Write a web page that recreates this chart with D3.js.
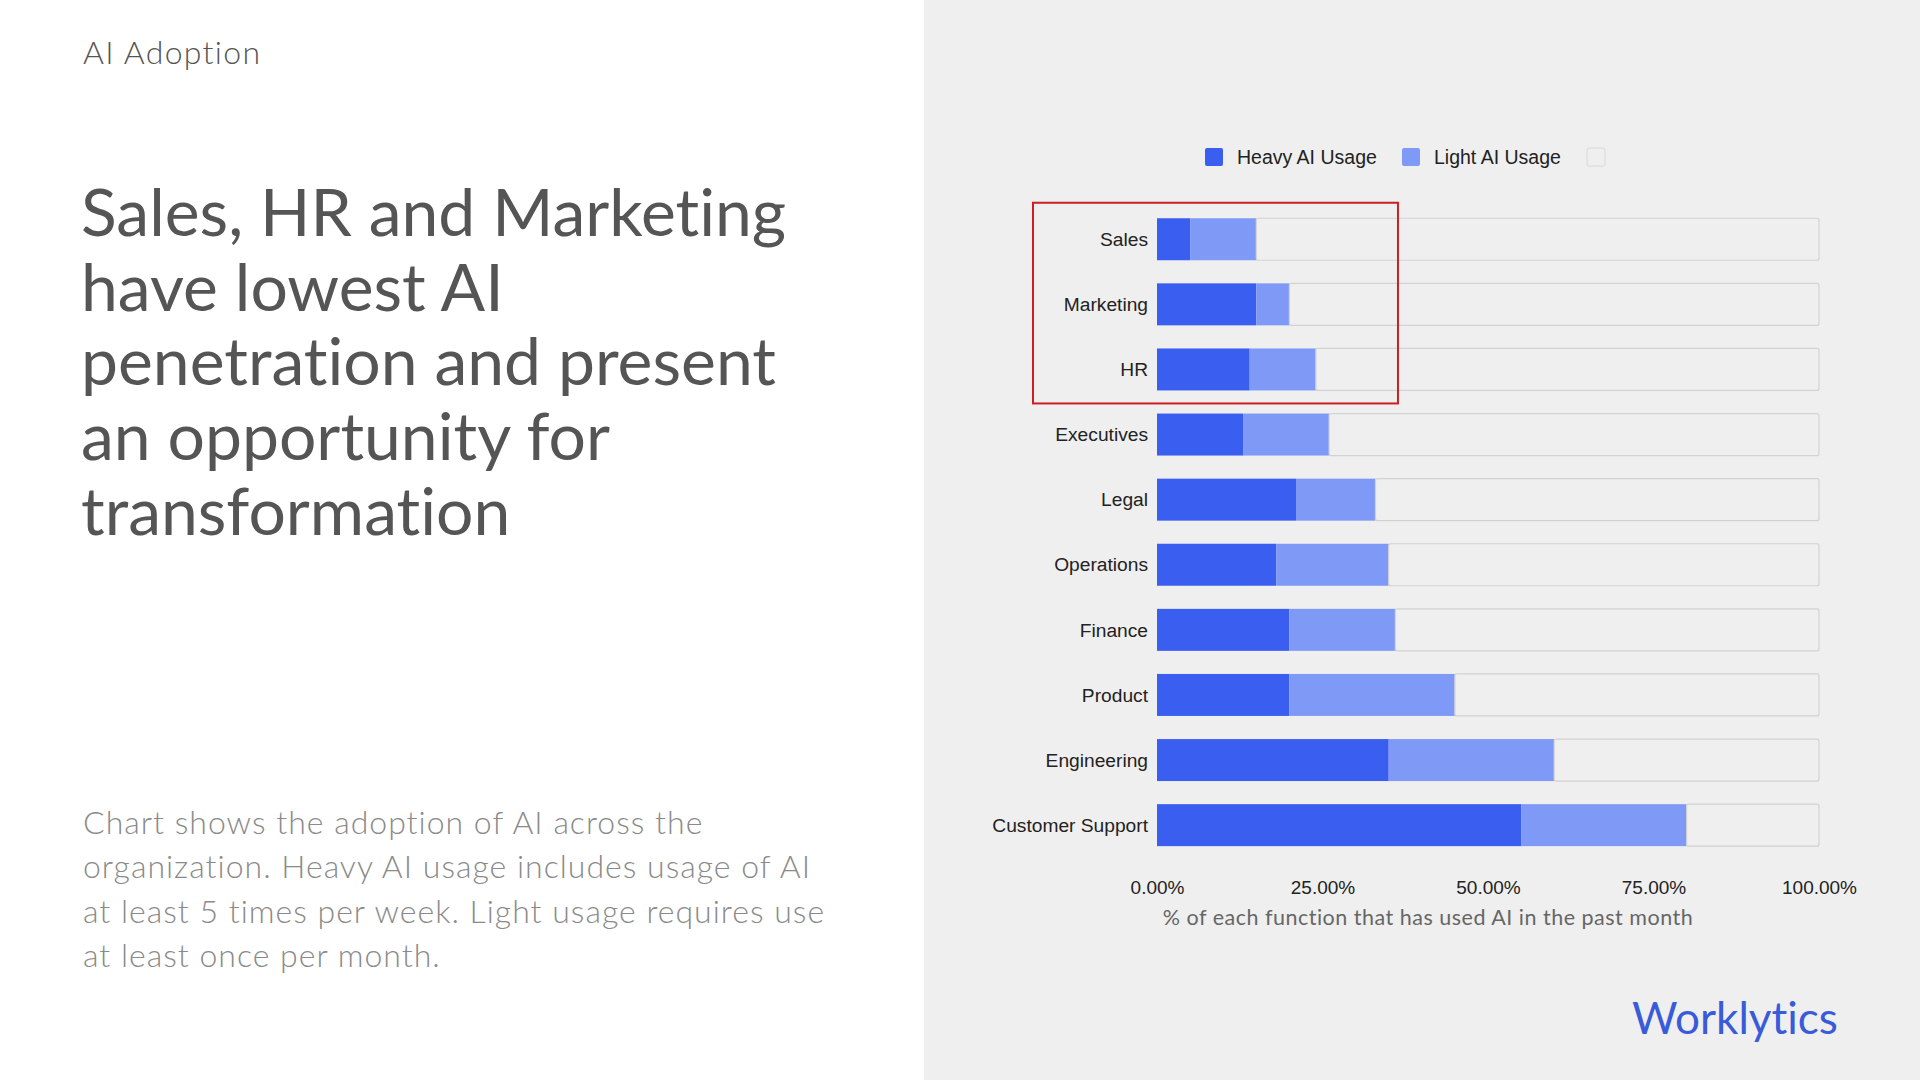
<!DOCTYPE html>
<html>
<head>
<meta charset="utf-8">
<script src="https://cdn.jsdelivr.net/npm/d3@7"></script>
<style>
  html, body { margin: 0; padding: 0; background: #ffffff; }
  svg { display: block; }
  text { font-variant-ligatures: none; }
</style>
</head>
<body>
<svg id="slide" width="1920" height="1080"></svg>
<script>
// functions, top to bottom
var categories = ["Sales", "Marketing", "HR", "Executives", "Legal", "Operations", "Finance", "Product", "Engineering", "Customer Support"];
// % of each function
var heavyUsage = [5, 15, 14, 13, 21, 18, 20, 20, 35, 55];
var lightUsage = [10, 5, 10, 13, 12, 17, 16, 25, 25, 25];
var seriesNames = ["Heavy AI Usage", "Light AI Usage", ""];
var xTicks = [0, 25, 50, 75, 100];

var kicker = "AI Adoption";
var headline = ["Sales, HR and Marketing", "have lowest AI", "penetration and present", "an opportunity for", "transformation"];
var blurb = ["Chart shows the adoption of AI across the", "organization. Heavy AI usage includes usage of AI", "at least 5 times per week. Light usage requires use", "at least once per month."];
var xTitle = "% of each function that has used AI in the past month";
var highlighted = ["Sales", "Marketing", "HR"];

var colors = ["#3a5eef", "#7f99f7", "#efefef"];
var sans = "Lato, 'Open Sans', sans-serif";
var arial = "'Liberation Sans', Arial, Helvetica, sans-serif";

var svg = d3.select("#slide");

// panels
svg.append("rect").attr("x", 0).attr("y", 0).attr("width", 924).attr("height", 1080).attr("fill", "#ffffff");
svg.append("rect").attr("x", 924).attr("y", 0).attr("width", 996).attr("height", 1080).attr("fill", "#efefef");

// left side text
svg.append("text")
  .attr("x", 83).attr("y", 64)
  .attr("font-family", sans).attr("font-size", 32).attr("font-weight", 300)
  .attr("letter-spacing", 1.3)
  .attr("fill", "#555")
  .text(kicker);

svg.append("g").selectAll("text")
  .data(headline)
  .enter().append("text")
  .attr("x", 81)
  .attr("y", function (d, i) { return 236 + i * 74.7; })
  .attr("font-family", sans).attr("font-size", 66).attr("font-weight", 400)
  .attr("fill", "#555")
  .text(function (d) { return d; });

svg.append("g").selectAll("text")
  .data(blurb)
  .enter().append("text")
  .attr("x", 83)
  .attr("y", function (d, i) { return 834 + i * 44.3; })
  .attr("font-family", sans).attr("font-size", 32).attr("font-weight", 300)
  .attr("letter-spacing", 1)
  .attr("fill", "#8a8a8a")
  .text(function (d) { return d; });

// chart
var x = d3.scaleLinear().domain([0, 100]).range([1157, 1819]);
var y = d3.scaleBand().domain(categories).range([206.7, 857.7]).paddingInner(0.355).paddingOuter(0.1775);

var rows = categories.map(function (c, i) {
  return { cat: c, heavy: heavyUsage[i], light: lightUsage[i], rest: 100 - heavyUsage[i] - lightUsage[i] };
});
var stack = d3.stack().keys(["heavy", "light", "rest"])(rows);

var bars = svg.append("g");
bars.selectAll("g")
  .data(stack)
  .enter().append("g")
  .each(function (layer, k) {
    d3.select(this).selectAll("rect")
      .data(layer)
      .enter().append("rect")
      .attr("x", function (d) { return x(d[0]); })
      .attr("y", function (d) { return y(d.data.cat); })
      .attr("width", function (d) { return x(d[1]) - x(d[0]); })
      .attr("height", y.bandwidth())
      .attr("fill", colors[k])
      .attr("stroke", k == 2 ? "#d2d2d2" : "none")
      .attr("stroke-width", 1.2)
      .attr("rx", k == 2 ? 2 : 0);
  });

// category labels
svg.append("g").selectAll("text")
  .data(categories)
  .enter().append("text")
  .attr("x", x(0) - 9)
  .attr("y", function (d) { return y(d) + y.bandwidth() / 2; })
  .attr("dy", "0.35em")
  .attr("text-anchor", "end")
  .attr("font-family", arial).attr("font-size", 19.2)
  .attr("fill", "#222")
  .text(function (d) { return d; });

// x axis
var xAxis = svg.append("g")
  .attr("transform", "translate(0," + y.range()[1] + ")")
  .call(d3.axisBottom(x).tickValues(xTicks).tickSize(0).tickPadding(23)
    .tickFormat(function (d) { return d3.format(".2f")(d) + "%"; }));
xAxis.select(".domain").remove();
xAxis.selectAll("text")
  .attr("font-family", arial).attr("font-size", 19)
  .attr("fill", "#222");

svg.append("text")
  .attr("x", 1428).attr("y", 925)
  .attr("text-anchor", "middle")
  .attr("font-family", sans).attr("font-size", 21.5).attr("font-weight", 400)
  .attr("letter-spacing", 0.5)
  .attr("fill", "#666")
  .text(xTitle);

// legend
var legendX = [1205, 1402, 1587];
var legend = svg.append("g").selectAll("g")
  .data(seriesNames)
  .enter().append("g")
  .attr("transform", function (d, i) { return "translate(" + legendX[i] + ",148)"; });
legend.append("rect")
  .attr("width", 18).attr("height", 18).attr("rx", 2)
  .attr("fill", function (d, i) { return colors[i]; })
  .attr("stroke", function (d, i) { return i == 2 ? "#d8d8d8" : "none"; });
legend.append("text")
  .attr("x", 32).attr("y", 9).attr("dy", "0.35em")
  .attr("font-family", arial).attr("font-size", 19.5)
  .attr("fill", "#222")
  .text(function (d) { return d; });

// red highlight box round the three lowest rows
var first = highlighted[0], last = highlighted[highlighted.length - 1];
svg.append("rect")
  .attr("x", 1033)
  .attr("y", y(first) - 15.5)
  .attr("width", x(36.4) - 1033)
  .attr("height", y(last) + y.bandwidth() + 13 - (y(first) - 15.5))
  .attr("fill", "none")
  .attr("stroke", "#cc1f24")
  .attr("stroke-width", 2);

// logo
svg.append("text")
  .attr("x", 1632).attr("y", 1034)
  .attr("font-family", sans).attr("font-size", 44).attr("font-weight", 400)
  .attr("fill", "#3a5bd9")
  .text("Worklytics");
</script>
</body>
</html>
